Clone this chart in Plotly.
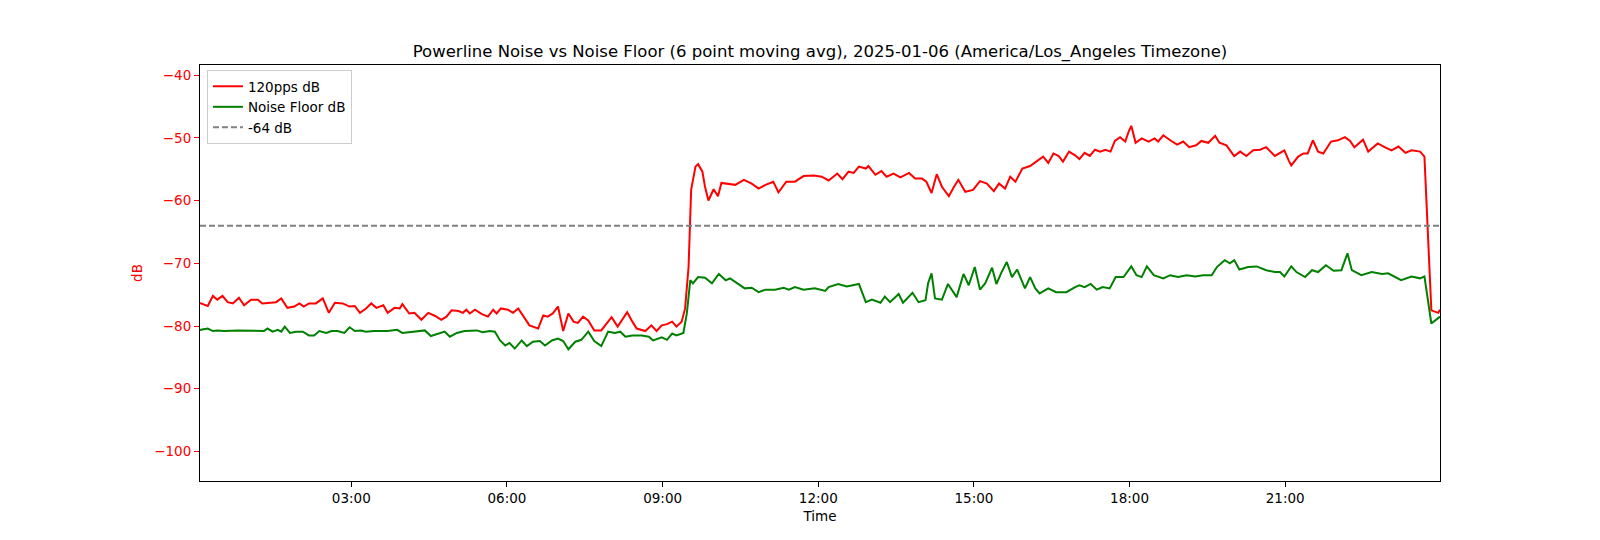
import plotly.graph_objects as go

date = "2025-01-06"

red_times = ["00:05","00:06","00:14","00:20","00:25","00:31","00:37","00:43","00:50","00:56",
"01:04","01:12","01:17","01:25","01:33","01:39","01:46","01:54","02:00","02:05","02:11","02:19",
"02:27","02:34","02:41","02:50","02:58","03:04","03:10","03:17","03:23","03:29","03:37","03:42",
"03:50","03:56","03:59","04:07","04:13","04:21","04:29","04:37","04:44","04:50","04:56","05:04",
"05:09","05:13","05:17","05:23","05:31","05:38","05:44","05:48","05:53","06:01","06:07","06:13",
"06:19","06:26","06:36","06:42","06:47","06:53","06:59","07:05","07:11","07:17","07:22","07:28",
"07:34","07:41","07:49","07:55","08:01","08:08","08:19","08:25","08:30","08:40","08:47","08:53",
"08:59","09:05","09:11","09:16","09:22","09:26","09:30","09:33","09:38","09:41","09:46","09:49",
"09:53","09:59","10:04","10:08","10:16","10:24","10:34","10:43","10:51","10:59","11:08","11:14",
"11:23","11:33","11:43","11:55","12:04","12:12","12:22","12:28","12:35","12:41","12:47","12:55",
"12:58","13:06","13:13","13:19","13:27","13:35","13:45","13:52","14:00","14:05","14:11","14:17",
"14:23","14:31","14:37","14:42","14:50","14:59","15:07","15:15","15:23","15:29","15:36","15:42",
"15:48","15:56","16:05","16:13","16:20","16:26","16:32","16:38","16:43","16:50","16:57","17:02",
"17:08","17:14","17:20","17:26","17:32","17:38","17:43","17:49","17:55","17:59","18:02","18:07",
"18:14","18:22","18:29","18:33","18:39","18:47","18:55","19:02","19:09","19:17","19:23","19:31",
"19:39","19:44","19:52","20:01","20:08","20:15","20:23","20:31","20:38","20:48","20:59","21:04",
"21:07","21:15","21:21","21:26","21:32","21:38","21:44","21:53","22:01","22:09","22:15","22:20",
"22:30","22:36","22:47","22:55","23:03","23:11","23:19","23:26","23:36","23:41","23:45","23:49",
"23:57","23:59"]
red_db = [-76.3,-76.4,-76.8,-75.2,-75.8,-75.2,-76.2,-76.4,-75.5,-76.7,
-75.8,-75.8,-76.4,-76.3,-76.2,-75.6,-77.1,-76.9,-76.4,-76.9,-76.4,-76.4,
-75.6,-77.9,-76.3,-76.4,-76.9,-76.8,-77.9,-77.2,-76.4,-77.1,-76.7,-77.9,
-77.1,-77.2,-76.5,-78.0,-77.9,-79.0,-77.9,-78.4,-79.0,-78.5,-77.5,-77.6,
-77.9,-77.4,-78.0,-77.4,-78.1,-78.5,-77.4,-78.0,-77.2,-77.4,-77.9,-77.2,
-78.5,-79.9,-80.4,-78.3,-78.5,-78.0,-76.9,-80.8,-78.0,-79.3,-79.5,-78.5,
-79.1,-80.7,-80.7,-79.6,-78.6,-80.1,-77.8,-79.3,-80.4,-80.8,-79.9,-80.8,
-79.9,-79.7,-79.3,-80.1,-79.3,-77.2,-70.6,-58.3,-54.6,-54.2,-55.4,-57.8,
-60.0,-58.2,-59.3,-57.2,-57.3,-57.5,-56.7,-57.3,-58.1,-57.5,-57.0,-58.7,
-57.0,-57.0,-56.1,-56.0,-56.2,-56.8,-55.7,-56.6,-55.4,-55.6,-54.6,-54.9,
-54.5,-55.9,-55.3,-56.2,-55.7,-56.3,-55.6,-56.5,-56.5,-57.0,-58.8,-55.8,
-57.8,-59.3,-57.8,-56.7,-58.6,-58.3,-56.9,-57.3,-58.5,-57.3,-58.1,-56.2,
-57.0,-54.9,-54.5,-53.7,-53.0,-54.0,-52.5,-52.9,-53.8,-52.2,-52.8,-53.4,
-52.4,-52.9,-51.9,-52.2,-51.9,-52.2,-50.5,-49.9,-50.6,-49.0,-48.1,-50.8,
-50.1,-50.6,-50.1,-50.6,-49.6,-50.4,-51.1,-50.6,-51.5,-51.2,-50.5,-50.8,
-49.7,-50.8,-51.2,-52.9,-52.2,-52.9,-52.0,-51.9,-51.5,-52.9,-52.0,-53.6,
-54.4,-53.0,-52.5,-52.5,-50.4,-52.2,-52.5,-50.6,-50.4,-49.9,-50.5,-51.5,
-50.3,-52.2,-50.9,-51.5,-52.0,-51.4,-52.4,-52.0,-52.2,-53.0,-64.2,-77.5,
-77.9,-77.4]

green_times = ["00:05","00:06","00:14","00:20","00:25","00:33","00:49","01:04","01:19","01:23",
"01:29","01:35","01:39","01:43","01:49","01:56","02:04","02:11","02:17","02:23","02:31","02:37",
"02:44","02:52","02:58","03:04","03:11","03:17","03:26","03:42","03:53","03:59","04:09","04:17",
"04:25","04:32","04:40","04:48","04:54","05:02","05:11","05:19","05:25","05:32","05:40","05:46",
"05:52","05:58","06:03","06:09","06:17","06:23","06:30","06:38","06:44","06:52","06:59","07:05",
"07:11","07:19","07:26","07:34","07:41","07:49","07:57","08:05","08:11","08:17","08:25","08:36",
"08:44","08:49","08:59","09:05","09:11","09:16","09:24","09:28","09:32","09:35","09:41","09:49",
"09:57","10:05","10:13","10:18","10:26","10:35","10:43","10:51","10:59","11:10","11:20","11:26",
"11:33","11:43","11:56","12:08","12:12","12:23","12:33","12:47","12:55","13:02","13:12","13:17",
"13:23","13:33","13:38","13:49","13:56","14:04","14:07","14:11","14:15","14:23","14:30","14:35",
"14:40","14:48","14:54","15:01","15:07","15:13","15:21","15:26","15:32","15:38","15:44","15:50",
"15:59","16:05","16:11","16:16","16:26","16:35","16:47","16:57","17:02","17:08","17:15","17:22",
"17:29","17:37","17:44","17:53","18:02","18:08","18:14","18:20","18:28","18:39","18:47","18:56",
"19:06","19:16","19:25","19:35","19:41","19:50","19:56","20:01","20:07","20:17","20:27","20:38",
"20:48","20:54","20:59","21:07","21:13","21:23","21:31","21:38","21:47","21:56","22:05","22:12",
"22:17","22:28","22:40","22:52","22:59","23:14","23:26","23:36","23:41","23:49","23:59"]
green_db = [-80.7,-80.6,-80.4,-80.8,-80.7,-80.8,-80.7,-80.8,-80.8,-80.4,
-80.9,-80.6,-80.9,-80.1,-81.1,-80.9,-80.9,-81.5,-81.5,-80.8,-81.1,-80.8,
-80.8,-81.1,-80.2,-80.8,-80.7,-80.9,-80.8,-80.8,-80.6,-81.1,-80.9,-80.8,
-80.7,-81.6,-81.2,-80.9,-81.7,-81.1,-80.8,-80.8,-80.7,-81.0,-80.8,-80.9,
-82.3,-83.1,-82.7,-83.6,-82.3,-83.2,-82.5,-82.4,-83.1,-82.3,-82.0,-82.4,
-83.7,-82.5,-82.2,-80.9,-82.4,-83.2,-80.9,-81.1,-80.9,-81.7,-81.5,-81.5,
-81.7,-82.3,-81.8,-82.2,-81.2,-81.5,-81.1,-78.0,-72.7,-73.2,-72.2,-72.3,
-73.2,-71.7,-72.7,-72.4,-73.2,-74.0,-73.9,-74.6,-74.2,-74.2,-73.9,-74.2,
-73.8,-74.2,-74.0,-74.4,-73.8,-73.3,-73.7,-73.3,-76.2,-75.8,-76.3,-75.3,
-76.2,-74.9,-76.3,-74.7,-76.2,-75.9,-73.2,-71.6,-75.6,-75.8,-73.3,-74.4,
-75.4,-71.7,-73.5,-70.6,-74.2,-73.2,-70.7,-73.3,-71.4,-69.8,-72.2,-71.0,
-74.0,-72.2,-74.0,-74.8,-74.0,-74.6,-74.6,-73.8,-73.5,-73.8,-73.3,-74.2,
-73.8,-74.0,-72.2,-72.2,-70.5,-71.9,-72.2,-70.5,-71.9,-72.4,-71.9,-72.2,
-71.9,-72.1,-71.9,-71.9,-70.6,-69.5,-70.0,-69.5,-71.0,-70.6,-70.5,-71.1,
-71.4,-71.4,-72.1,-70.5,-71.4,-72.2,-71.1,-71.4,-70.3,-71.2,-71.1,-68.4,
-71.1,-71.9,-71.4,-71.7,-71.6,-72.7,-72.1,-72.4,-72.1,-79.6,-78.5]

threshold_db = -64
x_tick_labels = ["03:00", "06:00", "09:00", "12:00", "15:00", "18:00", "21:00"]
y_tick_values = [-100, -90, -80, -70, -60, -50, -40]

def ts(hm):
    return f"{date} {hm}"

FONT = "DejaVu Sans"

fig = go.Figure()
fig.add_trace(go.Scatter(x=[ts(t) for t in red_times], y=red_db, mode="lines",
                         name="120pps dB", line=dict(color="#ff0000", width=2)))
fig.add_trace(go.Scatter(x=[ts(t) for t in green_times], y=green_db, mode="lines",
                         name="Noise Floor dB", line=dict(color="#008000", width=2)))
fig.add_trace(go.Scatter(x=[ts(red_times[0]), ts(red_times[-1])],
                         y=[threshold_db, threshold_db], mode="lines",
                         name=f"{threshold_db} dB",
                         line=dict(color="#808080", width=2, dash="6px,3px")))

fig.update_layout(
    width=1600, height=540,
    margin=dict(l=192, r=168, t=57, b=67),
    paper_bgcolor="white", plot_bgcolor="white",
    font=dict(family=FONT, size=14, color="black"),
    title=dict(text="Powerline Noise vs Noise Floor (6 point moving avg), 2025-01-06 (America/Los_Angeles Timezone)",
               x=0.5, xref="paper", xanchor="center", y=1 - 43/540, yanchor="middle",
               font=dict(family=FONT, size=16.5, color="black")),
    showlegend=True,
    legend=dict(x=0.0056, y=0.988, xanchor="left", yanchor="top",
                bgcolor="rgba(255,255,255,0.8)", bordercolor="#cccccc", borderwidth=1,
                font=dict(family=FONT, size=13.5, color="black"), tracegroupgap=0),
)

fig.update_xaxes(
    type="date",
    range=[ts(red_times[0]), ts(red_times[-1])],
    tickvals=[ts(t) for t in x_tick_labels], ticktext=x_tick_labels,
    showgrid=False, zeroline=False,
    showline=True, linecolor="black", linewidth=1, mirror=True,
    ticks="outside", ticklen=5, tickcolor="black", tickwidth=1,
    tickfont=dict(family=FONT, size=13.5, color="black"),
    title=dict(text="Time", font=dict(family=FONT, size=13.5, color="black"), standoff=6),
)
fig.update_yaxes(
    range=[-104.7, -38.4],
    tickvals=y_tick_values, ticktext=[f"\u2212{abs(v)}" for v in y_tick_values],
    showgrid=False, zeroline=False,
    showline=True, linecolor="black", linewidth=1, mirror=True,
    ticks="outside", ticklen=5, tickcolor="#ff0000", tickwidth=1,
    tickfont=dict(family=FONT, size=13.5, color="#ff0000"),
    title=dict(text="dB", font=dict(family=FONT, size=13.5, color="#ff0000"), standoff=8),
)

fig.write_html("out.html")
